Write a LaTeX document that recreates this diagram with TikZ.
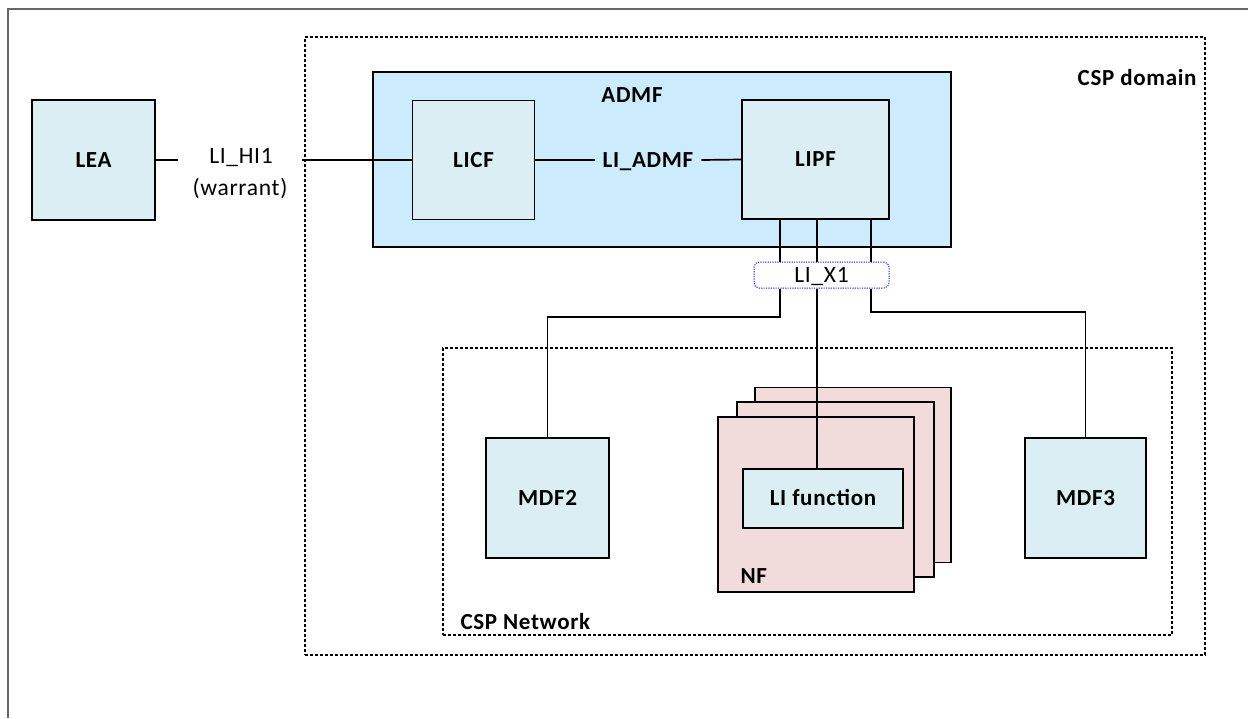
\documentclass[tikz,border=0pt]{standalone}
\usepackage{fontspec}
\setmainfont{Carlito}[LetterSpace=3]
\definecolor{boxblue}{HTML}{DAEEF3}
\definecolor{admfblue}{HTML}{CCEBFD}
\definecolor{nfpink}{HTML}{F2DCDB}
\definecolor{x1blue}{HTML}{1A1AE6}
\begin{document}
\begin{tikzpicture}[x=1pt,y=-1pt,
  bfont/.style={font=\fontsize{23}{27}\selectfont\bfseries},
  rfont/.style={font=\fontsize{23.5}{28}\selectfont},
  fbox/.style={draw=black, line width=1.9pt, fill=boxblue, inner sep=0pt, bfont, text height=14pt, text depth=0pt},
  frame/.style={draw=black, line width=1.9pt, dash pattern=on 3pt off 2pt, inner sep=0pt},
  nfbox/.style={draw=black, line width=1.9pt, fill=nfpink, inner sep=0pt, minimum width=196pt, minimum height=175pt},
  conn/.style={draw=black, line width=1.7pt},
  x1box/.style={draw=x1blue, line width=1pt, dash pattern=on 1.2pt off 1.2pt, rounded corners=5pt, fill=white, inner sep=0pt, rfont, text height=14pt, text depth=0pt}
]
\useasboundingbox (0,0) rectangle (1248,718);
% outer frame (top and left edges)
\draw[gray!80!black, line width=1.4pt] (8,718) -- (8,9) -- (1248,9);

% CSP domain
\node[frame, minimum width=900pt, minimum height=618pt] (dom) at (755,346) {};
\node[bfont, anchor=base east] (domlbl) at (1200,85) {CSP domain};

% ADMF
\node[draw=black, line width=1.9pt, fill=admfblue, minimum width=578pt, minimum height=175pt, inner sep=0pt] (admf) at (662,159.5) {};
\node[bfont, anchor=base] (admflbl) at (632,102) {ADMF};

\node[fbox, minimum width=123pt, minimum height=120pt] (lea) at (93.5,160) {LEA};
\node[fbox, minimum width=122pt, minimum height=119pt] (licf) at (473.5,160) {LICF};
\node[fbox, minimum width=147pt, minimum height=119pt] (lipf) at (815.5,159.5) {LIPF};

\node[bfont, inner xsep=8pt, inner ysep=0pt, text height=14pt, text depth=0pt] (liadmf) at (648,160) {LI\_ADMF};
\draw[conn] (licf.east) -- (liadmf.west);
\draw[conn] (liadmf.east) -- (lipf.west);

% LI_HI1
\node[rfont, anchor=base] (hia) at (241,163) {LI\_HI1};
\node[rfont, anchor=base] (hib) at (240,195) {(warrant)};
\coordinate (hiL) at (178,160);
\coordinate (hiR) at (302,160);
\draw[conn] (lea.east) -- (hiL);
\draw[conn] (hiR) -- (licf.west);

% CSP Network
\node[frame, minimum width=729pt, minimum height=287pt] (net) at (807.5,491.5) {};
\node[bfont, anchor=base west] (netlbl) at (457,629) {CSP Network};

\node[fbox, minimum width=123pt, minimum height=120pt] (mdf2) at (547.5,498) {MDF2};
\node[fbox, minimum width=121pt, minimum height=120pt] (mdf3) at (1085.5,498) {MDF3};

% NF stack
\node[nfbox] (nf3) at (853,475) {};
\node[nfbox, minimum width=197pt] (nf2) at (835.5,489.5) {};
\node[nfbox] (nf1) at (816,504.5) {};
\node[bfont, anchor=base west] (nflbl) at (737,583) {NF};
\node[fbox, minimum width=160pt, minimum height=59pt] (lif) at (823,498.5) {LI function};

% LI_X1
\node[x1box, minimum width=135pt, minimum height=26pt] (x1) at (821.5,275) {LI\_X1};

\coordinate (xa) at (780,0);
\coordinate (xb) at (817,0);
\coordinate (xc) at (871,0);
\coordinate (bendL) at (780,317);
\coordinate (bendR) at (871,312);

\draw[conn] (lipf.south -| xa) -- (x1.north -| xa);
\draw[conn] (lipf.south -| xb) -- (x1.north -| xb);
\draw[conn] (lipf.south -| xc) -- (x1.north -| xc);
\draw[conn] (x1.south -| xa) -- (bendL) -| (mdf2.north);
\draw[conn] (x1.south -| xc) -- (bendR) -| (mdf3.north);
\draw[conn] (x1.south -| xb) -- (lif.north -| xb);
\end{tikzpicture}
\end{document}
